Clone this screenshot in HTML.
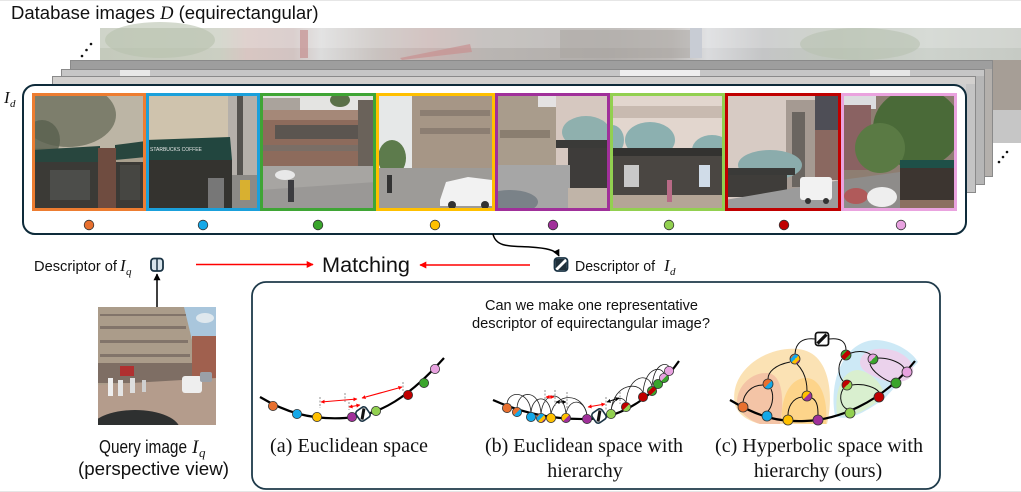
<!DOCTYPE html>
<html><head><meta charset="utf-8"><style>
html,body{margin:0;padding:0;background:#fff;}
svg{display:block;}
</style></head><body>
<svg width="1021" height="492" viewBox="0 0 1021 492" xmlns="http://www.w3.org/2000/svg" font-family="'Liberation Sans', Arial, sans-serif">
<defs>
<linearGradient id="bk" x1="0" y1="0" x2="1" y2="0">
<stop offset="0" stop-color="#c4cabc"/><stop offset="0.13" stop-color="#cbcfc2"/>
<stop offset="0.16" stop-color="#d8c6c2"/><stop offset="0.21" stop-color="#d2c4c2"/>
<stop offset="0.24" stop-color="#dcdcdc"/><stop offset="0.30" stop-color="#c9c3c0"/>
<stop offset="0.36" stop-color="#c8b4b2"/><stop offset="0.42" stop-color="#b9b5b2"/>
<stop offset="0.55" stop-color="#b2aeab"/><stop offset="0.62" stop-color="#bdb9b6"/>
<stop offset="0.66" stop-color="#dadbdd"/><stop offset="0.72" stop-color="#c4c5c6"/>
<stop offset="0.80" stop-color="#c2c9be"/><stop offset="0.90" stop-color="#cdd2cc"/>
<stop offset="1" stop-color="#c6cac4"/></linearGradient>
<linearGradient id="l2" x1="0" y1="0" x2="1" y2="0">
<stop offset="0" stop-color="#a9a9a9"/><stop offset="0.3" stop-color="#9f9f9f"/><stop offset="0.6" stop-color="#a8a6a4"/><stop offset="1" stop-color="#b0aca8"/></linearGradient>
<linearGradient id="gob" x1="0" y1="0" x2="1" y2="1"><stop offset="0.5" stop-color="#e8702f"/><stop offset="0.5" stop-color="#14a8e8"/></linearGradient>
<linearGradient id="gyp" x1="0" y1="0" x2="1" y2="1"><stop offset="0.5" stop-color="#ffc000"/><stop offset="0.5" stop-color="#a0309a"/></linearGradient>
<linearGradient id="gmu" x1="0" y1="0" x2="1" y2="1"><stop offset="0.25" stop-color="#e8702f"/><stop offset="0.25" stop-color="#14a8e8"/><stop offset="0.5" stop-color="#14a8e8"/><stop offset="0.5" stop-color="#ffc000"/><stop offset="0.75" stop-color="#ffc000"/><stop offset="0.75" stop-color="#a0309a"/></linearGradient>
<linearGradient id="glr" x1="0" y1="0" x2="1" y2="1"><stop offset="0.5" stop-color="#c00000"/><stop offset="0.5" stop-color="#92d050"/></linearGradient>
<linearGradient id="grg" x1="0" y1="0" x2="1" y2="1"><stop offset="0.33" stop-color="#3aa52c"/><stop offset="0.33" stop-color="#c00000"/><stop offset="0.66" stop-color="#c00000"/><stop offset="0.66" stop-color="#3aa52c"/></linearGradient>
<linearGradient id="ggp" x1="0" y1="0" x2="1" y2="1"><stop offset="0.5" stop-color="#e8a2e0"/><stop offset="0.5" stop-color="#3aa52c"/></linearGradient>
<marker id="ar" viewBox="0 0 10 10" refX="9" refY="5" markerWidth="7" markerHeight="7" orient="auto-start-reverse" markerUnits="userSpaceOnUse"><path d="M0,0 L10,5 L0,10 z" fill="#ff0000"/></marker>
<marker id="ab" viewBox="0 0 10 10" refX="9" refY="5" markerWidth="7" markerHeight="7" orient="auto-start-reverse" markerUnits="userSpaceOnUse"><path d="M0,0 L10,5 L0,10 z" fill="#000"/></marker>
<marker id="arS" viewBox="0 0 10 10" refX="9" refY="5" markerWidth="4" markerHeight="4" orient="auto-start-reverse" markerUnits="userSpaceOnUse"><path d="M0,0 L10,5 L0,10 z" fill="#ff0000"/></marker>
<marker id="abS" viewBox="0 0 10 10" refX="9" refY="5" markerWidth="4" markerHeight="4" orient="auto-start-reverse" markerUnits="userSpaceOnUse"><path d="M0,0 L10,5 L0,10 z" fill="#000"/></marker>
<clipPath id="c1"><rect x="32" y="93" width="114" height="118"/></clipPath>
<clipPath id="c2"><rect x="146" y="93" width="114" height="118"/></clipPath>
<clipPath id="c3"><rect x="260" y="93" width="116" height="118"/></clipPath>
<clipPath id="c4"><rect x="376" y="93" width="119" height="118"/></clipPath>
<clipPath id="c5"><rect x="495" y="93" width="115" height="118"/></clipPath>
<clipPath id="c6"><rect x="610" y="93" width="115" height="118"/></clipPath>
<clipPath id="c7"><rect x="725" y="93" width="116" height="118"/></clipPath>
<clipPath id="c8"><rect x="841" y="93" width="116" height="118"/></clipPath>
<clipPath id="cq"><rect x="98" y="307" width="118" height="118"/></clipPath>
</defs>

<rect width="1021" height="492" fill="#fff"/>
<line x1="0" y1="0.5" x2="1021" y2="0.5" stroke="#e6e6e6"/>
<line x1="0" y1="491.5" x2="1021" y2="491.5" stroke="#e6e6e6"/>

<!-- Title -->
<text x="11" y="19" font-size="18.5" fill="#111">Database images <tspan font-family="'Liberation Serif', serif" font-style="italic">D</tspan> (equirectangular)</text>

<!-- ellipses -->
<circle cx="82" cy="56" r="1.3" fill="#111"/><circle cx="86.5" cy="50" r="1.3" fill="#111"/><circle cx="91" cy="44" r="1.3" fill="#111"/>
<circle cx="999" cy="162" r="1.3" fill="#111"/><circle cx="1003" cy="157" r="1.3" fill="#111"/><circle cx="1007" cy="152" r="1.3" fill="#111"/>

<!-- back stack layer -->
<rect x="100" y="28" width="921" height="115" fill="url(#bk)"/>
<rect x="100" y="28" width="921" height="20" fill="#ffffff" opacity="0.2"/>
<ellipse cx="160" cy="40" rx="55" ry="18" fill="#b8c2ae" opacity="0.6"/>
<ellipse cx="860" cy="44" rx="60" ry="16" fill="#b8c2b0" opacity="0.6"/>
<rect x="300" y="30" width="8" height="28" fill="#c49090" opacity="0.7"/>
<path d="M400,58 L470,44 L472,52 L402,60 z" fill="#c89090" opacity="0.7"/>
<rect x="560" y="30" width="130" height="28" fill="#a8a4a0" opacity="0.5"/>
<rect x="690" y="28" width="12" height="30" fill="#c8ccd4"/>
<rect x="993" y="60" width="28" height="50" fill="#a69e96"/>
<rect x="993" y="110" width="28" height="33" fill="#c6c6c6"/>
<!-- layer 2 -->
<rect x="70.5" y="60.5" width="922" height="116" fill="url(#l2)" stroke="#8a8a8a"/>
<rect x="71" y="61" width="921" height="8" fill="#9e9e9e"/>
<rect x="966" y="69" width="26" height="107" fill="#b4b0ac"/>
<!-- layer 3 -->
<rect x="61.5" y="69.5" width="923" height="115" fill="#bfbfbf" stroke="#8a8a8a"/>
<rect x="62" y="70" width="922" height="6" fill="#c6c6c6"/>
<rect x="120" y="70" width="30" height="6" fill="#e8e8e8"/><rect x="620" y="70" width="80" height="6" fill="#eeeeee"/><rect x="870" y="70" width="40" height="6" fill="#e6e6e6"/>
<rect x="966" y="76" width="18" height="108" fill="#b6b6b6"/>
<!-- layer 4 -->
<rect x="52.5" y="76.5" width="923" height="116" fill="#cfcfcf" stroke="#8a8a8a"/>
<rect x="53" y="77" width="922" height="7" fill="#d2d0ce"/>
<rect x="966" y="84" width="9" height="108" fill="#c4c4c4"/>

<!-- main box -->
<rect x="23" y="85" width="943" height="149" rx="12" ry="12" fill="#fff" stroke="#0e2b3a" stroke-width="2"/>
<text x="4" y="103" font-family="'Liberation Serif', serif" font-style="italic" font-size="17" fill="#111">I</text>
<text x="10" y="107" font-family="'Liberation Serif', serif" font-style="italic" font-size="11" fill="#111">d</text>

<!-- Photo 1 -->
<g clip-path="url(#c1)">
<rect x="32" y="93" width="114" height="118" fill="#a9a08e"/>
<rect x="32" y="93" width="114" height="55" fill="#bcb5a5"/>
<ellipse cx="68" cy="115" rx="48" ry="32" fill="#6d705e" opacity="0.8"/>
<ellipse cx="42" cy="140" rx="18" ry="20" fill="#59604f" opacity="0.8"/>
<polygon points="32,150 100,146 100,162 32,166" fill="#28463e"/>
<polygon points="115,145 146,141 146,157 115,160" fill="#28463e"/>
<rect x="32" y="162" width="114" height="49" fill="#3b3a36"/>
<rect x="98" y="148" width="18" height="63" fill="#6f4c40"/>
<rect x="50" y="170" width="40" height="30" fill="#4c4d4a"/>
<rect x="120" y="165" width="20" height="35" fill="#464642"/>
</g>
<!-- Photo 2 -->
<g clip-path="url(#c2)">
<rect x="146" y="93" width="114" height="118" fill="#cfc3ad"/>
<rect x="228" y="93" width="32" height="118" fill="#b5b0aa"/>
<rect x="237" y="93" width="6" height="118" fill="#55534f"/>
<polygon points="146,140 230,137 232,160 146,160" fill="#22463f"/>
<text x="150" y="151" font-size="5" fill="#e8e8e8">STARBUCKS COFFEE</text>
<rect x="146" y="160" width="86" height="51" fill="#34332f"/>
<rect x="232" y="175" width="28" height="36" fill="#8c8a86"/>
<rect x="240" y="180" width="10" height="20" fill="#d8b030"/>
<rect x="208" y="178" width="16" height="33" fill="#777"/>
</g>
<!-- Photo 3 -->
<g clip-path="url(#c3)">
<rect x="260" y="93" width="116" height="118" fill="#e4e4e2"/>
<rect x="262" y="98" width="38" height="28" fill="#aaa39c"/>
<rect x="262" y="110" width="108" height="58" fill="#8d6b5c"/>
<rect x="262" y="110" width="108" height="10" fill="#a58878"/>
<rect x="275" y="125" width="90" height="14" fill="#5b5550"/>
<rect x="262" y="145" width="108" height="6" fill="#7a6e66"/>
<rect x="358" y="100" width="18" height="70" fill="#6a625a"/>
<ellipse cx="340" cy="100" rx="10" ry="7" fill="#5a7048"/>
<rect x="260" y="166" width="116" height="45" fill="#a7a5a2"/>
<polygon points="260,190 376,182 376,211 260,211" fill="#9a9896"/>
<ellipse cx="285" cy="175" rx="10" ry="5" fill="#e8e8e8"/>
<rect x="288" y="180" width="6" height="22" fill="#3c3c40"/>
</g>
<!-- Photo 4 -->
<g clip-path="url(#c4)">
<rect x="376" y="93" width="119" height="118" fill="#e6e8e8"/>
<polygon points="412,96 495,93 495,176 412,170" fill="#a69686"/>
<rect x="420" y="110" width="70" height="6" fill="#8c7e72"/>
<rect x="420" y="128" width="70" height="6" fill="#8c7e72"/>
<ellipse cx="392" cy="158" rx="14" ry="18" fill="#5d7b4c"/>
<rect x="376" y="168" width="119" height="43" fill="#9d9b98"/>
<path d="M440,200 L446,182 L468,177 L492,180 L495,200 L495,206 L440,206 z" fill="#f2f2f2"/>
<circle cx="452" cy="205" r="4" fill="#333"/><circle cx="485" cy="205" r="4" fill="#333"/>
<rect x="387" y="175" width="5" height="18" fill="#333"/>
</g>
<!-- Photo 5 -->
<g clip-path="url(#c5)">
<rect x="495" y="93" width="115" height="118" fill="#a99c8c"/>
<rect x="538" y="93" width="20" height="14" fill="#e4e2e2"/>
<rect x="556" y="93" width="54" height="82" fill="#d6c8c0"/>
<ellipse cx="586" cy="132" rx="24" ry="16" fill="#8fb0ae"/>
<rect x="556" y="140" width="54" height="8" fill="#3a3a38"/>
<rect x="568" y="148" width="42" height="40" fill="#3e3c3a"/>
<rect x="495" y="165" width="75" height="46" fill="#a6a6a6"/>
<rect x="568" y="188" width="42" height="23" fill="#c0b4a8"/>
<ellipse cx="510" cy="202" rx="28" ry="12" fill="#7a8288"/>
<rect x="500" y="130" width="50" height="8" fill="#8a7e70"/>
</g>
<!-- Photo 6 -->
<g clip-path="url(#c6)">
<rect x="610" y="93" width="115" height="118" fill="#e2d6ce"/>
<rect x="610" y="106" width="115" height="12" fill="#c8bab0"/>
<ellipse cx="612" cy="140" rx="12" ry="15" fill="#8cb0b0"/>
<ellipse cx="650" cy="140" rx="25" ry="18" fill="#8cb0b0"/>
<ellipse cx="712" cy="150" rx="20" ry="15" fill="#8cb0b0"/>
<rect x="610" y="148" width="115" height="8" fill="#333230"/>
<rect x="610" y="156" width="115" height="40" fill="#4a4642"/>
<rect x="624" y="165" width="15" height="22" fill="#c8c8c8"/>
<rect x="699" y="165" width="11" height="22" fill="#d0dce8"/>
<rect x="610" y="195" width="115" height="16" fill="#b4a596"/>
<rect x="667" y="180" width="5" height="22" fill="#b86a86"/>
</g>
<!-- Photo 7 -->
<g clip-path="url(#c7)">
<rect x="725" y="93" width="116" height="118" fill="#d7cbc4"/>
<rect x="786" y="100" width="30" height="92" fill="#a59a92"/>
<rect x="792" y="112" width="13" height="75" fill="#6a6560"/>
<rect x="815" y="93" width="26" height="40" fill="#4e4e56"/>
<rect x="815" y="130" width="26" height="50" fill="#8a6860"/>
<ellipse cx="770" cy="165" rx="32" ry="15" fill="#8bacac"/>
<rect x="725" y="168" width="70" height="7" fill="#3a3a38"/>
<rect x="725" y="175" width="62" height="22" fill="#3f3d3a"/>
<polygon points="725,200 841,180 841,211 725,211" fill="#9b9b9b"/>
<rect x="800" y="177" width="32" height="23" rx="3" fill="#f2f2f2"/>
<circle cx="808" cy="201" r="3" fill="#333"/><circle cx="826" cy="201" r="3" fill="#333"/>
</g>
<!-- Photo 8 -->
<g clip-path="url(#c8)">
<rect x="841" y="93" width="116" height="118" fill="#8e7e72"/>
<rect x="841" y="93" width="35" height="16" fill="#dcdde0"/>
<rect x="843" y="105" width="28" height="65" fill="#8a6262"/>
<ellipse cx="917" cy="128" rx="44" ry="40" fill="#4a6a38"/>
<ellipse cx="880" cy="148" rx="25" ry="25" fill="#5a7a44"/>
<rect x="900" y="160" width="57" height="8" fill="#1e5048"/>
<rect x="900" y="168" width="57" height="32" fill="#3c3530"/>
<polygon points="841,180 900,172 900,211 841,211" fill="#8e8c8a"/>
<ellipse cx="856" cy="196" rx="12" ry="8" fill="#b05a5a"/>
<ellipse cx="882" cy="197" rx="15" ry="10" fill="#eeeeee"/>
<rect x="900" y="200" width="57" height="11" fill="#8b7060"/>
</g>
<!-- frames -->
<g fill="none" stroke-width="3">
<rect x="33.5" y="94.5" width="111" height="115" stroke="#ed7d31"/>
<rect x="147.5" y="94.5" width="111" height="115" stroke="#1aa0db"/>
<rect x="261.5" y="94.5" width="113" height="115" stroke="#3fa535"/>
<rect x="377.5" y="94.5" width="116" height="115" stroke="#ffc000"/>
<rect x="496.5" y="94.5" width="112" height="115" stroke="#a0309a"/>
<rect x="611.5" y="94.5" width="112" height="115" stroke="#92d050"/>
<rect x="726.5" y="94.5" width="113" height="115" stroke="#c00000"/>
<rect x="842.5" y="94.5" width="113" height="115" stroke="#eaa3df"/>
</g>
<g stroke="#333" stroke-width="0.8">
<circle cx="89" cy="225" r="4.8" fill="#e8702f"/>
<circle cx="203" cy="225" r="4.8" fill="#14a8e8"/>
<circle cx="318" cy="225" r="4.8" fill="#3aa52c"/>
<circle cx="435" cy="225" r="4.8" fill="#ffc000"/>
<circle cx="553" cy="225" r="4.8" fill="#a0309a"/>
<circle cx="669" cy="225" r="4.8" fill="#92d050"/>
<circle cx="784" cy="225" r="4.8" fill="#c00000"/>
<circle cx="901" cy="225" r="4.8" fill="#e8a2e0"/>
</g>

<!-- curved arrow to Id descriptor -->
<path d="M493,234 C 496,248 512,246 530,247 C 546,248 556,250 559,256" fill="none" stroke="#000" stroke-width="1.5" marker-end="url(#ab)"/>

<!-- middle row -->
<text x="34" y="271" font-size="15" textLength="83" lengthAdjust="spacingAndGlyphs" fill="#111">Descriptor of</text>
<text x="120" y="271" font-family="'Liberation Serif', serif" font-style="italic" font-size="17" fill="#111">I</text>
<text x="126" y="275" font-family="'Liberation Serif', serif" font-style="italic" font-size="11" fill="#111">q</text>
<rect x="151" y="258.5" width="12" height="12.5" rx="3" fill="#d8e4ec" stroke="#1a3344" stroke-width="1.8"/>
<line x1="157" y1="259" x2="157" y2="271" stroke="#1a3344" stroke-width="1.5"/>
<line x1="157" y1="307" x2="157" y2="274" stroke="#000" stroke-width="1.5" marker-end="url(#ab)"/>
<line x1="196" y1="264.5" x2="313" y2="264.5" stroke="#ff0000" stroke-width="1.6" marker-end="url(#ar)"/>
<text x="322" y="272" font-size="21" textLength="88" lengthAdjust="spacingAndGlyphs" fill="#111">Matching</text>
<line x1="530" y1="265" x2="420" y2="265" stroke="#ff0000" stroke-width="1.6" marker-end="url(#ar)"/>
<g transform="translate(561,264.5)">
<rect x="-6.5" y="-6.5" width="13" height="13" rx="3" fill="#fff" stroke="#1a3344" stroke-width="1.8"/>
<polygon points="-5.5,-5.5 4,-5.5 -5.5,4" fill="#1f2f3a"/>
<polygon points="5.5,-3 5.5,5.5 -3,5.5" fill="#1f2f3a"/>
</g>
<text x="575" y="271" font-size="15" textLength="80" lengthAdjust="spacingAndGlyphs" fill="#111">Descriptor of</text>
<text x="664" y="271" font-family="'Liberation Serif', serif" font-style="italic" font-size="17" fill="#111">I</text>
<text x="670" y="275" font-family="'Liberation Serif', serif" font-style="italic" font-size="11" fill="#111">d</text>

<!-- Query image -->
<g clip-path="url(#cq)">
<rect x="98" y="307" width="118" height="118" fill="#ab9c8a"/>
<polygon points="184,307 216,307 216,348 192,340" fill="#a9c6dc"/>
<ellipse cx="205" cy="318" rx="9" ry="5" fill="#dfe8ee"/>
<rect x="192" y="336" width="24" height="48" fill="#a0604e"/>
<g fill="#82746a">
<rect x="100" y="314" width="86" height="2"/><rect x="100" y="326" width="86" height="3"/>
<rect x="100" y="340" width="88" height="3"/><rect x="100" y="354" width="90" height="3"/>
</g>
<rect x="98" y="363" width="94" height="20" fill="#7e6e64"/>
<rect x="120" y="366" width="14" height="10" fill="#b03030"/>
<polygon points="98,385 216,378 216,425 98,425" fill="#b49c8c"/>
<rect x="108" y="378" width="5" height="18" fill="#eee"/>
<rect x="118" y="380" width="5" height="16" fill="#e4e4e4"/>
<rect x="130" y="378" width="5" height="15" fill="#ddd"/>
<rect x="142" y="380" width="4" height="12" fill="#cfcfcf"/>
<rect x="182" y="376" width="20" height="17" rx="3" fill="#eeeeee"/>
<rect x="200" y="372" width="12" height="10" rx="2" fill="#9aa0a8"/>
<ellipse cx="135" cy="430" rx="45" ry="20" fill="#2e3030"/>
</g>
<text x="99" y="453" font-size="18" textLength="88" lengthAdjust="spacingAndGlyphs" fill="#111">Query image</text>
<text x="192" y="453" font-family="'Liberation Serif', serif" font-style="italic" font-size="19" fill="#111">I</text>
<text x="199" y="457" font-family="'Liberation Serif', serif" font-style="italic" font-size="13" fill="#111">q</text>
<text x="78" y="475" font-size="18" textLength="151" lengthAdjust="spacingAndGlyphs" fill="#111">(perspective view)</text>

<!-- bottom panel -->
<rect x="252" y="282" width="688" height="207" rx="14" ry="14" fill="#fff" stroke="#1e3a4a" stroke-width="1.8"/>
<text x="485" y="310" font-size="14.5" textLength="213" lengthAdjust="spacingAndGlyphs" fill="#111">Can we make one representative</text>
<text x="472" y="328" font-size="14.5" textLength="238" lengthAdjust="spacingAndGlyphs" fill="#111">descriptor of equirectangular image?</text>

<!-- (a) -->
<path d="M260,397 C 285,412 310,420 345,418 C 380,416 410,396 444,358" fill="none" stroke="#000" stroke-width="2.2"/>
<g stroke="#777" stroke-width="0.8" stroke-dasharray="2,1.5">
<line x1="320" y1="397" x2="320" y2="408"/><line x1="345" y1="393" x2="345" y2="402"/>
<line x1="349" y1="402" x2="349" y2="410"/><line x1="403" y1="382" x2="403" y2="391"/>
</g>
<line x1="321" y1="402" x2="357" y2="399" stroke="#ff0000" stroke-width="1.1" marker-start="url(#arS)" marker-end="url(#arS)"/>
<line x1="349" y1="407" x2="360" y2="405" stroke="#ff0000" stroke-width="1.1" marker-start="url(#arS)" marker-end="url(#arS)"/>
<line x1="362" y1="398" x2="402" y2="387" stroke="#ff0000" stroke-width="1.1" marker-start="url(#arS)" marker-end="url(#arS)"/>
<g stroke="#333" stroke-width="0.8">
<circle cx="273" cy="406" r="4.6" fill="#e8702f"/>
<circle cx="297" cy="414" r="4.6" fill="#14a8e8"/>
<circle cx="317" cy="417" r="4.6" fill="#ffc000"/>
<circle cx="352" cy="417" r="4.6" fill="#a0309a"/>
<circle cx="376" cy="411" r="4.6" fill="#92d050"/>
<circle cx="408" cy="395" r="4.6" fill="#c00000"/>
<circle cx="424" cy="383" r="4.6" fill="#3aa52c"/>
<circle cx="435" cy="369" r="4.6" fill="#e8a2e0"/>
</g>
<g transform="translate(363,414) rotate(-35)">
<rect x="-6" y="-6" width="12" height="12" rx="3" fill="#fff" stroke="#1a3344" stroke-width="1.6"/>
<line x1="-4" y1="4" x2="4" y2="-4" stroke="#111" stroke-width="3"/>
</g>
<text x="270" y="452" font-family="'Liberation Serif', serif" font-size="20" textLength="158" lengthAdjust="spacingAndGlyphs" fill="#111">(a) Euclidean space</text>

<!-- (b) -->
<g fill="none" stroke="#222" stroke-width="0.8">
<path d="M507,404 C 508,390 530,390 531,413"/>
<path d="M517,408 C 518,389 540,389 541,414"/>
<path d="M531,413 C 532,394 550,394 551,414"/>
<path d="M541,414 C 543,390 564,390 566,414"/>
<path d="M551,414 C 555,392 583,392 587,415"/>
<path d="M566,414 C 569,398 584,398 587,415"/>
<path d="M611,411 C 614,382 640,382 643,393"/>
<path d="M626,403 C 628,374 650,372 652,387"/>
<path d="M643,393 C 645,366 662,366 664,374"/>
<path d="M652,387 C 654,362 667,362 669,367"/>
<path d="M611,411 C 613,396 624,396 626,403"/>
</g>
<path d="M493,400 C 520,412 550,420 590,419 C 625,417 655,395 679,361" fill="none" stroke="#000" stroke-width="2.2"/>
<g stroke="#777" stroke-width="0.8" stroke-dasharray="2,1.5">
<line x1="545" y1="390" x2="545" y2="404"/><line x1="555" y1="390" x2="555" y2="406"/>
<line x1="567" y1="392" x2="567" y2="410"/><line x1="606" y1="397" x2="606" y2="410"/>
<line x1="620" y1="392" x2="620" y2="404"/>
</g>
<line x1="546" y1="397" x2="554" y2="397" stroke="#ff0000" stroke-width="1.1" marker-start="url(#arS)" marker-end="url(#arS)"/>
<line x1="556" y1="402" x2="566" y2="402" stroke="#000" stroke-width="1" marker-start="url(#abS)" marker-end="url(#abS)"/>
<line x1="588" y1="407" x2="605" y2="404" stroke="#ff0000" stroke-width="1.1" marker-start="url(#arS)" marker-end="url(#arS)"/>
<line x1="607" y1="402" x2="619" y2="398" stroke="#000" stroke-width="1" marker-start="url(#abS)" marker-end="url(#abS)"/>
<g stroke="#333" stroke-width="0.8">
<circle cx="507" cy="408" r="4.6" fill="#e8702f"/>
<circle cx="517" cy="412" r="4.6" fill="url(#gob)"/>
<circle cx="531" cy="417" r="4.6" fill="#14a8e8"/>
<circle cx="541" cy="418" r="4.6" fill="url(#gmu)"/>
<circle cx="551" cy="418" r="4.6" fill="#ffc000"/>
<circle cx="566" cy="418" r="4.6" fill="url(#gyp)"/>
<circle cx="587" cy="419" r="4.6" fill="#a0309a"/>
<circle cx="611" cy="414" r="4.6" fill="#92d050"/>
<circle cx="626" cy="407" r="4.6" fill="url(#glr)"/>
<circle cx="643" cy="397" r="4.6" fill="#c00000"/>
<circle cx="652" cy="391" r="4.6" fill="url(#grg)"/>
<circle cx="658" cy="384" r="4.6" fill="#3aa52c"/>
<circle cx="664" cy="378" r="4.6" fill="url(#ggp)"/>
<circle cx="669" cy="371" r="4.6" fill="#e8a2e0"/>
</g>
<g transform="translate(599,416) rotate(-35)">
<rect x="-6" y="-6" width="12" height="12" rx="3" fill="#fff" stroke="#1a3344" stroke-width="1.6"/>
<line x1="-4" y1="4" x2="4" y2="-4" stroke="#111" stroke-width="3"/>
</g>
<text x="485" y="452" font-family="'Liberation Serif', serif" font-size="20" textLength="198" lengthAdjust="spacingAndGlyphs" fill="#111">(b) Euclidean space with</text>
<text x="585" y="477" font-family="'Liberation Serif', serif" font-size="20" text-anchor="middle" fill="#111">hierarchy</text>

<!-- (c) -->
<path d="M735,405 C 728,372 765,346 798,349 C 830,352 834,395 827,424 L 760,424 C 745,420 738,413 735,405 Z" fill="#fbe2b4"/>
<path d="M737,404 C 736,386 752,372 768,373 C 784,375 784,405 780,424 L 760,424 C 748,420 740,412 737,404 Z" fill="#f4c4a6"/>
<path d="M782,423 C 780,398 790,378 806,378 C 822,378 828,402 826,424 Z" fill="#fdd48a"/>
<path d="M835,416 C 828,378 846,340 876,340 C 896,341 912,352 918,362 L 885,398 C 866,412 848,422 835,416 Z" fill="#cde9f6"/>
<path d="M837,414 C 834,392 842,370 858,370 C 872,372 884,386 884,396 C 870,408 852,420 837,414 Z" fill="#d9efcf"/>
<path d="M860,362 C 862,348 882,346 898,352 C 910,358 916,366 912,376 C 904,384 890,384 878,378 C 868,374 860,370 860,362 Z" fill="#ebd2ec"/>
<path d="M730,400 C 760,418 780,422 805,421 C 835,420 880,405 915,361" fill="none" stroke="#000" stroke-width="2.2"/>
<g fill="none" stroke="#111" stroke-width="1">
<path d="M815,339 Q 796,337 795,354"/>
<path d="M829,339 Q 846,337 846,350"/>
<path d="M790,362 C 775,365 768,372 768,379"/>
<path d="M797,364 C 805,372 807,382 807,391"/>
<path d="M763,385 C 750,385 744,395 743,402"/>
<path d="M771,389 C 775,398 771,408 768,411"/>
<path d="M802,397 C 792,398 788,408 788,415"/>
<path d="M812,398 C 818,401 818,410 818,415"/>
<path d="M842,359 C 836,368 840,378 843,381"/>
<path d="M851,353 C 860,350 868,352 871,355"/>
<path d="M843,389 C 838,398 842,407 847,409"/>
<path d="M852,385 C 865,383 876,388 879,392"/>
<path d="M870,364 C 872,372 885,380 891,382"/>
<path d="M878,358 C 892,358 902,364 904,368"/>
</g>
<g stroke="#333" stroke-width="0.8">
<circle cx="743" cy="407" r="5" fill="#e8702f"/>
<circle cx="767" cy="416" r="5" fill="#14a8e8"/>
<circle cx="788" cy="420" r="5" fill="#ffc000"/>
<circle cx="818" cy="420" r="5" fill="#a0309a"/>
<circle cx="850" cy="413" r="5" fill="#92d050"/>
<circle cx="879" cy="397" r="5" fill="#c00000"/>
<circle cx="896" cy="383" r="5" fill="#3aa52c"/>
<circle cx="907" cy="372" r="5" fill="#e8a2e0"/>
<circle cx="768" cy="384" r="5" fill="url(#gob)"/>
<circle cx="807" cy="396" r="5" fill="url(#gyp)"/>
<circle cx="795" cy="359" r="5" fill="url(#gmu)"/>
<circle cx="846" cy="355" r="5" fill="url(#grg)"/>
<circle cx="847" cy="385" r="5" fill="url(#glr)"/>
<circle cx="873" cy="359" r="5" fill="url(#ggp)"/>
</g>
<g transform="translate(822,339)">
<rect x="-6.5" y="-6.5" width="13" height="13" rx="2.5" fill="#fff" stroke="#111" stroke-width="1.8"/>
<line x1="-4.5" y1="4.5" x2="4.5" y2="-4.5" stroke="#111" stroke-width="3.2"/>
</g>
<text x="715" y="452" font-family="'Liberation Serif', serif" font-size="20" textLength="208" lengthAdjust="spacingAndGlyphs" fill="#111">(c) Hyperbolic space with</text>
<text x="818" y="477" font-family="'Liberation Serif', serif" font-size="20" text-anchor="middle" fill="#111">hierarchy (ours)</text>
</svg>
</body></html>
